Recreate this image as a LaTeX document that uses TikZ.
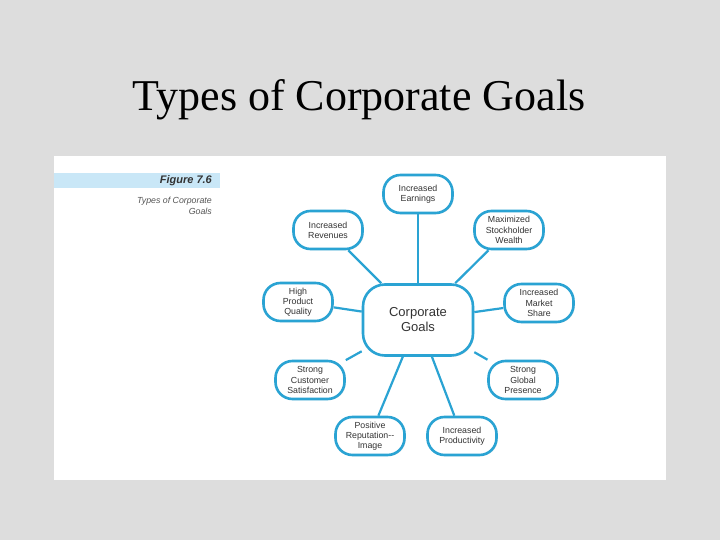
\documentclass[tikz,border=0pt]{standalone}
\usepackage{fontspec}
\setmainfont{Liberation Serif}
\newfontfamily\figsans{Liberation Sans}
\usetikzlibrary{shadows}
\definecolor{bggray}{HTML}{DDDDDD}
\definecolor{goalblue}{HTML}{2AA3D3}
\definecolor{bandblue}{HTML}{C9E7F7}
\definecolor{labelgray}{HTML}{555555}
\tikzset{
  goal/.style={draw=goalblue, line width=2.6pt, fill=white, rounded corners=17pt,
    minimum width=69pt, minimum height=38pt, inner sep=1pt, align=center,
    font=\figsans\fontsize{8.8}{10.2}\selectfont, text=black!80,
    drop shadow={opacity=0.18, shadow xshift=1.2pt, shadow yshift=-1.2pt}},
  core/.style={goal, rounded corners=22pt, minimum width=110pt, minimum height=71pt,
    font=\figsans\fontsize{13}{15}\selectfont},
  link/.style={draw=goalblue, line width=2.2pt}
}
\begin{document}
\begin{tikzpicture}[x=1pt,y=-1pt]
\useasboundingbox (0,0) rectangle (720,540);
\fill[bggray] (0,0) rectangle (720,540);
\node[anchor=base, font=\fontsize{44}{50}\selectfont] (title) at (359,111) {Types of Corporate Goals};
\fill[white] (54,156) rectangle (666,480);
\fill[bandblue] (54,173) rectangle (220,188);
\node[anchor=east, font=\figsans\bfseries\itshape\fontsize{11}{12}\selectfont, text=black!80, inner sep=0pt] (fig) at (212,181) {Figure 7.6};
\node[anchor=north east, align=right, font=\figsans\itshape\fontsize{8.8}{10.5}\selectfont, text=labelgray, inner sep=0pt] (cap) at (212,197) {Types of Corporate\\Goals};

\node[core] (c) at (418,320) {Corporate\\Goals};
\node[goal] (earn) at (418,194) {Increased\\Earnings};
\node[goal] (rev) at (328,230) {Increased\\Revenues};
\node[goal] (wealth) at (509,230) {Maximized\\Stockholder\\Wealth};
\node[goal] (qual) at (298,302) {High\\Product\\Quality};
\node[goal] (mkt) at (539,303) {Increased\\Market\\Share};
\node[goal] (cust) at (310,380) {Strong\\Customer\\Satisfaction};
\node[goal] (glob) at (523,380) {Strong\\Global\\Presence};
\node[goal] (rep) at (370,436) {Positive\\Reputation--\\Image};
\node[goal] (prod) at (462,436) {Increased\\Productivity};

\foreach \n in {earn,rev,wealth,qual,mkt,cust,glob,rep,prod}{
  \draw[link] (c) -- (\n);
}
\end{tikzpicture}
\end{document}
